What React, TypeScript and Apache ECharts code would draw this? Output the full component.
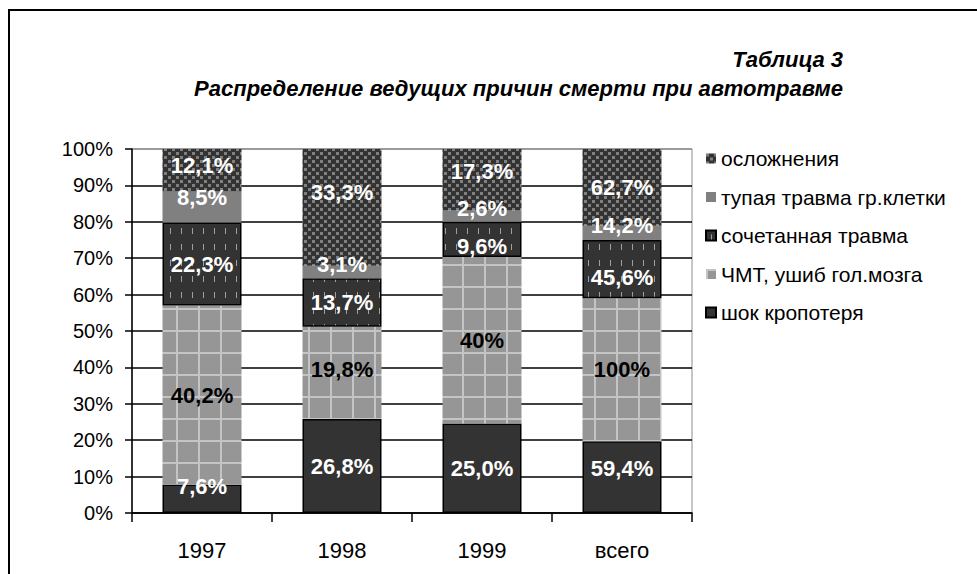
import React, { useEffect, useRef } from "react";
import * as echarts from "echarts";

const categories = ["1997", "1998", "1999", "всего"];
const legendOrder = [
  "осложнения",
  "тупая травма гр.клетки",
  "сочетанная травма",
  "ЧМТ, ушиб гол.мозга",
  "шок кропотеря",
];

// bar heights (share of column, %)
const shockValues = [7.8, 25.8, 24.6, 19.7];
const tbiValues = [49.2, 25.4, 45.7, 39.3];
const combinedValues = [22.8, 13.3, 9.7, 16.0];
const chestValues = [8.5, 3.4, 3.1, 3.9];
const complicationValues = [11.7, 32.1, 16.9, 21.1];

// printed labels
const shockLabels = ["7,6%", "26,8%", "25,0%", "59,4%"];
const tbiLabels = ["40,2%", "19,8%", "40%", "100%"];
const combinedLabels = ["22,3%", "13,7%", "9,6%", "45,6%"];
const chestLabels = ["8,5%", "3,1%", "2,6%", "14,2%"];
const complicationLabels = ["12,1%", "33,3%", "17,3%", "62,7%"];

// label vertical nudges (px), layout only
const shockNudge = [-12, 0, 0, -9];
const tbiNudge = [0, -3, 0, 0];
const combinedNudge = [0, 0, 7, 8];
const chestNudge = [-10, -8, -8, -7];
const complicationNudge = [-5, -15, -8, 0];

const FONT = '"Liberation Sans", Arial, sans-serif';

function makePattern(w: number, h: number, draw: (ctx: CanvasRenderingContext2D) => void) {
  const c = document.createElement("canvas");
  c.width = w;
  c.height = h;
  const ctx = c.getContext("2d") as CanvasRenderingContext2D;
  draw(ctx);
  return { image: c, repeat: "repeat" } as any;
}

export default function App() {
  const ref = useRef<HTMLDivElement>(null);

  useEffect(() => {
    document.body.style.margin = "0";
    if (!ref.current) return;
    const chart = echarts.init(ref.current, undefined, { renderer: "svg" });

    const checker = makePattern(8, 8, (ctx) => {
      ctx.fillStyle = "#333333";
      ctx.fillRect(0, 0, 8, 8);
      ctx.fillStyle = "#808080";
      ctx.fillRect(0, 0, 3, 3);
      ctx.fillRect(4, 4, 3, 3);
    });
    const dashes = makePattern(11, 16, (ctx) => {
      ctx.fillStyle = "#333333";
      ctx.fillRect(0, 0, 11, 16);
      ctx.fillStyle = "#a0a0a0";
      ctx.fillRect(5, 4, 1, 6);
    });
    const gridPat = makePattern(22, 22, (ctx) => {
      ctx.fillStyle = "#c4c4c4";
      ctx.fillRect(0, 0, 22, 22);
      ctx.fillStyle = "#969696";
      ctx.fillRect(2, 2, 20, 20);
    });

    const mk = (
      name: string,
      values: number[],
      labels: string[],
      nudges: number[],
      color: any,
      labelColor: string,
      border: boolean
    ) => ({
      name,
      type: "bar",
      stack: "all",
      barWidth: 79,
      data: values.map((v, i) => ({ value: v, label: { offset: [0, nudges[i]] } })),
      itemStyle: {
        color,
        borderColor: border ? "#000" : "transparent",
        borderWidth: border ? 1.5 : 0,
      },
      emphasis: { disabled: true },
      label: {
        show: true,
        position: "inside",
        color: labelColor,
        fontFamily: FONT,
        fontWeight: "bold",
        fontSize: 22,
        formatter: (p: any) => labels[p.dataIndex],
      },
    });

    const splitColors: string[] = [];
    for (let i = 0; i < 10; i++) splitColors.push("#000");
    splitColors.push("#8c8c8c");

    chart.setOption({
      animation: false,
      backgroundColor: "#fff",
      title: [
        {
          text: "Таблица 3",
          right: 129,
          top: 43,
          textStyle: { fontFamily: FONT, fontSize: 22, fontWeight: "bold", fontStyle: "italic", color: "#000" },
        },
        {
          text: "Распределение ведущих причин смерти при автотравме",
          right: 129,
          top: 72,
          textStyle: { fontFamily: FONT, fontSize: 22, fontWeight: "bold", fontStyle: "italic", color: "#000" },
        },
      ],
      graphic: [
        {
          type: "rect",
          shape: { x: 9, y: 10, width: 1100, height: 700 },
          style: { fill: "none", stroke: "#000", lineWidth: 2 },
          silent: true,
        },
      ],
      legend: {
        data: legendOrder,
        orient: "vertical",
        left: 700,
        top: 143,
        itemWidth: 10,
        itemHeight: 10,
        itemGap: 17.5,
        icon: "rect",
        selectedMode: false,
        textStyle: { fontFamily: FONT, fontSize: 21, color: "#000", lineHeight: 20 },
      },
      grid: {
        left: 132,
        top: 149,
        width: 560,
        height: 364,
        show: true,
        borderColor: "#8c8c8c",
        borderWidth: 1,
        backgroundColor: "transparent",
      },
      xAxis: {
        type: "category",
        data: categories,
        axisLine: { lineStyle: { color: "#000", width: 1.5 } },
        axisTick: { show: true, length: 9, alignWithLabel: false, lineStyle: { color: "#000", width: 1.5 } },
        axisLabel: { color: "#000", fontFamily: FONT, fontSize: 22, margin: 26 },
        splitLine: { show: false },
      },
      yAxis: {
        type: "value",
        min: 0,
        max: 100,
        interval: 10,
        axisLine: { show: true, lineStyle: { color: "#000", width: 1.5 } },
        axisTick: { show: true, length: 7, lineStyle: { color: "#000", width: 1.5 } },
        axisLabel: { color: "#000", fontFamily: FONT, fontSize: 20, margin: 19, formatter: "{value}%" },
        splitLine: { show: true, lineStyle: { color: splitColors, width: 1.5 } },
      },
      series: [
        mk("шок кропотеря", shockValues, shockLabels, shockNudge, "#333333", "#fff", true),
        mk("ЧМТ, ушиб гол.мозга", tbiValues, tbiLabels, tbiNudge, gridPat, "#000", false),
        mk("сочетанная травма", combinedValues, combinedLabels, combinedNudge, dashes, "#fff", true),
        mk("тупая травма гр.клетки", chestValues, chestLabels, chestNudge, "#808080", "#fff", false),
        mk("осложнения", complicationValues, complicationLabels, complicationNudge, checker, "#fff", false),
      ],
    });

    return () => chart.dispose();
  }, []);

  return (
    <div
      ref={ref}
      style={{ position: "absolute", left: 0, top: 0, width: 977, height: 574 }}
    />
  );
}
